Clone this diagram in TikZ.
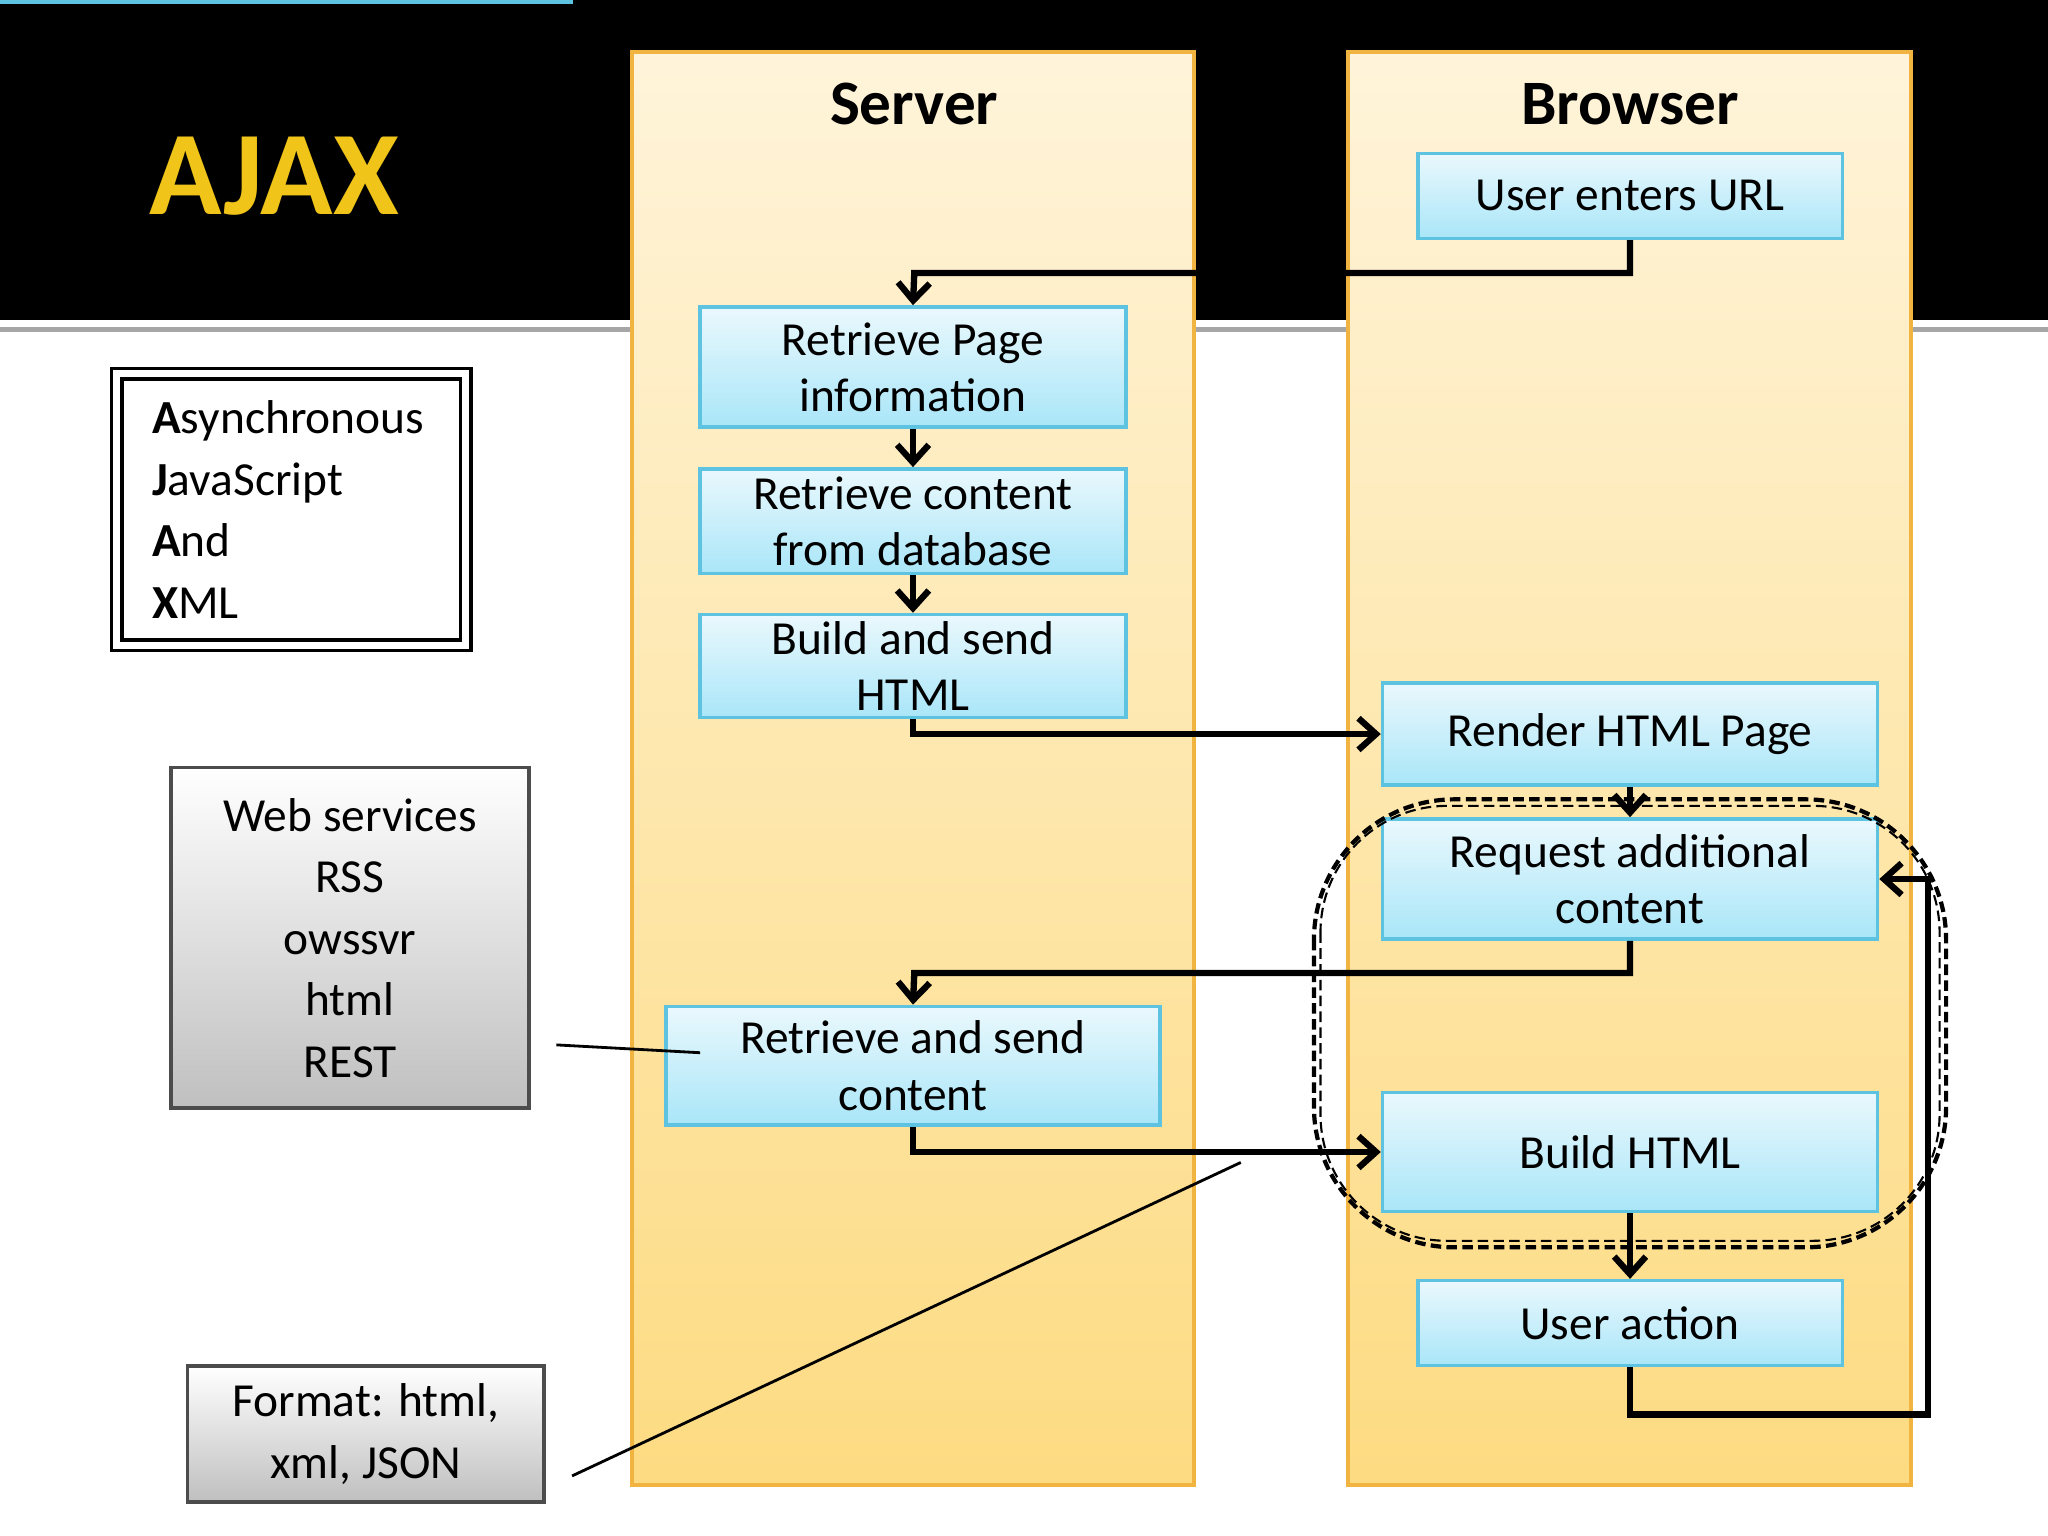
\documentclass[tikz,border=0pt]{standalone}
\usepackage{fontspec}
\setmainfont{Carlito}
\usetikzlibrary{arrows.meta}
\definecolor{colA}{HTML}{FFF4DA}
\definecolor{colB}{HTML}{FDDB82}
\definecolor{colE}{HTML}{F2B441}
\definecolor{cyT}{HTML}{EAF8FD}
\definecolor{cyB}{HTML}{A9E6F8}
\definecolor{cyE}{HTML}{5EC3E0}
\definecolor{ajax}{HTML}{F0C419}
\begin{document}
\begin{tikzpicture}[x=0.01306cm,y=-0.01306cm,
 col/.style={draw=colE,line width=1pt,top color=colA,bottom color=colB},
 box/.style={draw=cyE,line width=1pt,top color=cyT,bottom color=cyB,align=center,font=\fontsize{13.5}{16}\selectfont,inner sep=0pt},
 gbox/.style={draw=black!70,line width=1pt,top color=white,bottom color=black!25,align=center,font=\fontsize{13.5}{17.5}\selectfont,inner sep=0pt},
 arr/.style={line width=1.8pt,-{Straight Barb[length=5pt,width=9pt]}},
 ttl/.style={font=\fontsize{18}{20}\selectfont\bfseries}]
\useasboundingbox (0,0) rectangle (1568,1176);
\fill[white] (0,0) rectangle (1568,1176);
\fill[black] (0,0) rectangle (1568,245);
\draw[black!35,line width=1.5pt] (0,252) -- (1568,252);
\node[text=ajax,font=\fontsize{34}{36}\selectfont\bfseries] (ajax) at (210,135) {AJAX};
\path[col] (484,40) rectangle (914,1137);
\path[col] (1032,40) rectangle (1463,1137);
\node[ttl] (ts) at (700,80) {Server};
\node[ttl] (tb) at (1248,80) {Browser};
\node[box,minimum width=325\pgflinewidth] at (0,0) {};
\newcommand{\bx}[6]{\node[box,minimum width=#3*0.01306cm,minimum height=#4*0.01306cm] (#5) at (#1,#2) {#6};}
\bx{1248}{150}{325}{65}{url}{User enters URL}
\bx{699}{281}{326}{92}{rp}{Retrieve Page\\information}
\bx{699}{399}{326}{80}{rc}{Retrieve content\\from database}
\bx{699}{510}{326}{79}{bs}{Build and send\\HTML}
\bx{1248}{562}{379}{78}{rh}{Render HTML Page}
\bx{1248}{673}{379}{92}{ra}{Request additional\\content}
\bx{699}{816}{378}{91}{rs}{Retrieve and send\\content}
\bx{1248}{882}{379}{91}{bh}{Build HTML}
\bx{1248}{1013}{325}{65}{ua}{User action}
\draw[line width=1.2pt,dash pattern=on 3pt off 1.5pt,rounded corners=40] (1006,612) rectangle (1490,955);
\draw[line width=0.6pt,dash pattern=on 3pt off 1.5pt,rounded corners=36] (1011,617) rectangle (1485,950);
\draw[arr] (url.south) |- (700,209) -- (rp.north);
\draw[arr] (rp) -- (rc);
\draw[arr] (rc) -- (bs);
\draw[arr] (bs.south) |- (rh.west);
\draw[arr] (rh) -- (ra);
\draw[arr] (ra.south) |- (700,745) -- (rs.north);
\draw[arr] (rs.south) |- (bh.west);
\draw[arr] (bh) -- (ua);
\coordinate (c1) at (1476,1083);
\draw[arr] (ua.south) |- (c1) |- (ra.east);
\node[draw,line width=1pt,double,double distance=2pt,minimum width=267*0.01306cm,minimum height=208*0.01306cm] (acr) at (223,390) {};
\node[align=left,anchor=west,font=\fontsize{13.5}{17.5}\selectfont] (acrt) at (107,390) {\textbf{A}synchronous\\\textbf{J}avaScript\\\textbf{A}nd\\\textbf{X}ML};
\node[gbox,minimum width=274*0.01306cm,minimum height=261*0.01306cm] (ws) at (268,718) {Web services\\RSS\\owssvr\\html\\REST};
\node[gbox,minimum width=273*0.01306cm,minimum height=104*0.01306cm] (fm) at (280,1098) {Format: html,\\xml, JSON};
\coordinate (l1) at (426,800); \coordinate (l2) at (536,806);
\coordinate (l3) at (438,1130); \coordinate (l4) at (950,890);
\draw[line width=0.8pt] (l1) -- (l2);
\draw[line width=0.8pt] (l3) -- (l4);
\end{tikzpicture}
\end{document}
